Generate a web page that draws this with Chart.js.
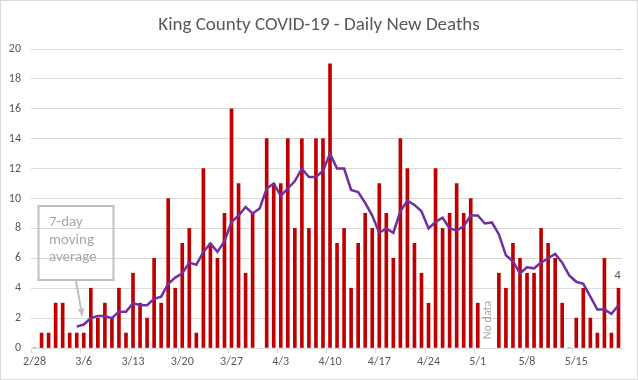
<!DOCTYPE html>
<html><head><meta charset="utf-8">
<script src="https://cdn.jsdelivr.net/npm/chart.js@4/dist/chart.umd.min.js"></script>
<style>html,body{margin:0;padding:0;background:#fff;}#wrap{width:638px;height:380px;}</style>
</head><body><div id="wrap"><canvas id="c" width="638" height="380"></canvas></div>
<script>
const categories = ['2/28','2/29',
 '3/1','3/2','3/3','3/4','3/5','3/6','3/7','3/8','3/9','3/10','3/11','3/12','3/13','3/14','3/15','3/16','3/17','3/18','3/19','3/20','3/21','3/22','3/23','3/24','3/25','3/26','3/27','3/28','3/29','3/30','3/31',
 '4/1','4/2','4/3','4/4','4/5','4/6','4/7','4/8','4/9','4/10','4/11','4/12','4/13','4/14','4/15','4/16','4/17','4/18','4/19','4/20','4/21','4/22','4/23','4/24','4/25','4/26','4/27','4/28','4/29','4/30',
 '5/1','5/2','5/3','5/4','5/5','5/6','5/7','5/8','5/9','5/10','5/11','5/12','5/13','5/14','5/15','5/16','5/17','5/18','5/19','5/20','5/21'];
const dailyDeaths = [0,1,1,3,3,1,1,1,4,2, 3,2,4,1,5,3,2,6,3,10, 4,7,8,1,12,7,6,9,16,11, 5,9,null,14,11,11,14,8,14,8,
 14,14,19,7,8,4,7,9,8,11, 9,6,14,12,7,5,3,12,8,9, 11,9,10,3,null,null,5,4,7,6, 5,5,8,7,6,3,0,2,4,2, 1,6,1,4];
const movingAverage = [null,null,null,null,null,null,1.43,1.57,2.0,2.14,
 2.14,2.0,2.43,2.43,3.0,2.86,2.86,3.29,3.43,4.29,
 4.71,5.0,5.71,5.57,6.43,7.0,6.43,7.14,8.43,8.86,
 9.43,9.0,9.33,10.67,11.0,10.17,10.67,11.17,12.0,11.43,
 11.43,11.86,13.0,12.0,12.0,10.57,10.43,9.71,8.86,7.71,
 8.0,7.71,9.14,9.86,9.57,9.14,8.0,8.43,8.71,8.0,
 7.86,8.14,8.86,8.86,8.33,8.4,7.6,6.2,5.8,5.0,
 5.4,5.33,5.71,6.0,6.29,5.71,4.86,4.43,4.29,3.43,
 2.57,2.57,2.29,2.86];
const yTickValues = [0,2,4,6,8,10,12,14,16,18,20];
const xTickLabels = ['2/28','3/6','3/13','3/20','3/27','4/3','4/10','4/17','4/24','5/1','5/8','5/15'];
const noDataDays = ['5/2','5/3'];
const calloutLines = ['7-day','moving','average'];
const titleText = 'King County COVID-19 - Daily New Deaths';

const FONT = 'Carlito, Calibri, Lato, "Liberation Sans", sans-serif';

const annotations = {
  id: 'annotations',
  afterDraw(chart) {
    const ctx = chart.ctx, xs = chart.scales.x, ys = chart.scales.y;
    ctx.save();
    // outer chart border
    ctx.strokeStyle = '#d9d9d9'; ctx.lineWidth = 1;
    ctx.strokeRect(0.5, 0.5, chart.width - 1, chart.height - 1);
    // title
    ctx.fillStyle = '#595959';
    ctx.font = '19px ' + FONT;
    ctx.textAlign = 'center'; ctx.textBaseline = 'alphabetic';
    ctx.fillText(titleText, 319, 30);
    // callout box
    ctx.strokeStyle = '#bfbfbf'; ctx.lineWidth = 2;
    ctx.strokeRect(38.5, 206, 75, 74);
    ctx.fillStyle = '#a6a6a6';
    ctx.font = '15px ' + FONT;
    ctx.textAlign = 'left';
    calloutLines.forEach((t, i) => ctx.fillText(t, 49, 226 + i * 17.7));
    // arrow
    const x0 = 76, y0 = 281, x1 = 82.5, y1 = 317;
    ctx.beginPath(); ctx.moveTo(x0, y0); ctx.lineTo(x0 + (x1 - x0) * 0.78, y0 + (y1 - y0) * 0.78); ctx.stroke();
    const ang = Math.atan2(y1 - y0, x1 - x0);
    ctx.beginPath();
    ctx.moveTo(x1, y1);
    ctx.lineTo(x1 - 9 * Math.cos(ang - 0.38), y1 - 9 * Math.sin(ang - 0.38));
    ctx.lineTo(x1 - 9 * Math.cos(ang + 0.38), y1 - 9 * Math.sin(ang + 0.38));
    ctx.closePath(); ctx.fillStyle = '#bfbfbf'; ctx.fill();
    // No data label
    const i0 = categories.indexOf(noDataDays[0]), i1 = categories.indexOf(noDataDays[noDataDays.length - 1]);
    const nx = (xs.getPixelForValue(i0) + xs.getPixelForValue(i1)) / 2;
    ctx.translate(nx, 320); ctx.rotate(-Math.PI / 2);
    ctx.fillStyle = '#a6a6a6'; ctx.font = '12px ' + FONT;
    ctx.textAlign = 'center'; ctx.textBaseline = 'middle';
    ctx.fillText('No data', 0, 0);
    ctx.setTransform(1, 0, 0, 1, 0, 0);
    // last value label
    const li = dailyDeaths.length - 1;
    ctx.fillStyle = '#595959'; ctx.font = '13px ' + FONT;
    ctx.textAlign = 'center'; ctx.textBaseline = 'middle';
    ctx.fillText(String(dailyDeaths[li]), xs.getPixelForValue(li) - 1, ys.getPixelForValue(dailyDeaths[li]) - 12);
    ctx.restore();
  }
};

new Chart(document.getElementById('c'), {
  data: {
    labels: categories,
    datasets: [
      { type: 'line', data: movingAverage, borderColor: '#7030a0', borderWidth: 2.5, pointRadius: 0, tension: 0, order: 0, spanGaps: false },
      { type: 'bar', data: dailyDeaths, backgroundColor: '#c00000', barThickness: 3, order: 1 }
    ]
  },
  options: {
    responsive: false, animation: false,
    layout: { padding: { top: 49, right: 16, left: 0, bottom: 0 } },
    plugins: { legend: { display: false }, tooltip: { enabled: false }, title: { display: false } },
    scales: {
      x: {
        offset: true,
        grid: { offset: true, drawOnChartArea: false, drawTicks: true, tickLength: 5,
          color: c => (c.index % 7 === 0 || c.index >= categories.length) ? '#d9d9d9' : 'rgba(0,0,0,0)' },
        border: { color: '#d9d9d9' },
        ticks: { autoSkip: false, maxRotation: 0, minRotation: 0, padding: 2, color: '#595959',
          font: { size: 12, family: FONT },
          callback: (v, i) => xTickLabels.includes(categories[i]) ? categories[i] : '' },
        afterFit: s => { s.height = 32; }
      },
      y: {
        min: 0, max: 20,
        afterBuildTicks: s => { s.ticks = yTickValues.map(v => ({ value: v })); },
        grid: { color: '#d9d9d9', drawTicks: false },
        border: { display: false },
        ticks: { padding: 10, color: '#595959', font: { size: 12, family: FONT } },
        afterFit: s => { s.width = 31; }
      }
    }
  },
  plugins: [annotations]
});
</script></body></html>
